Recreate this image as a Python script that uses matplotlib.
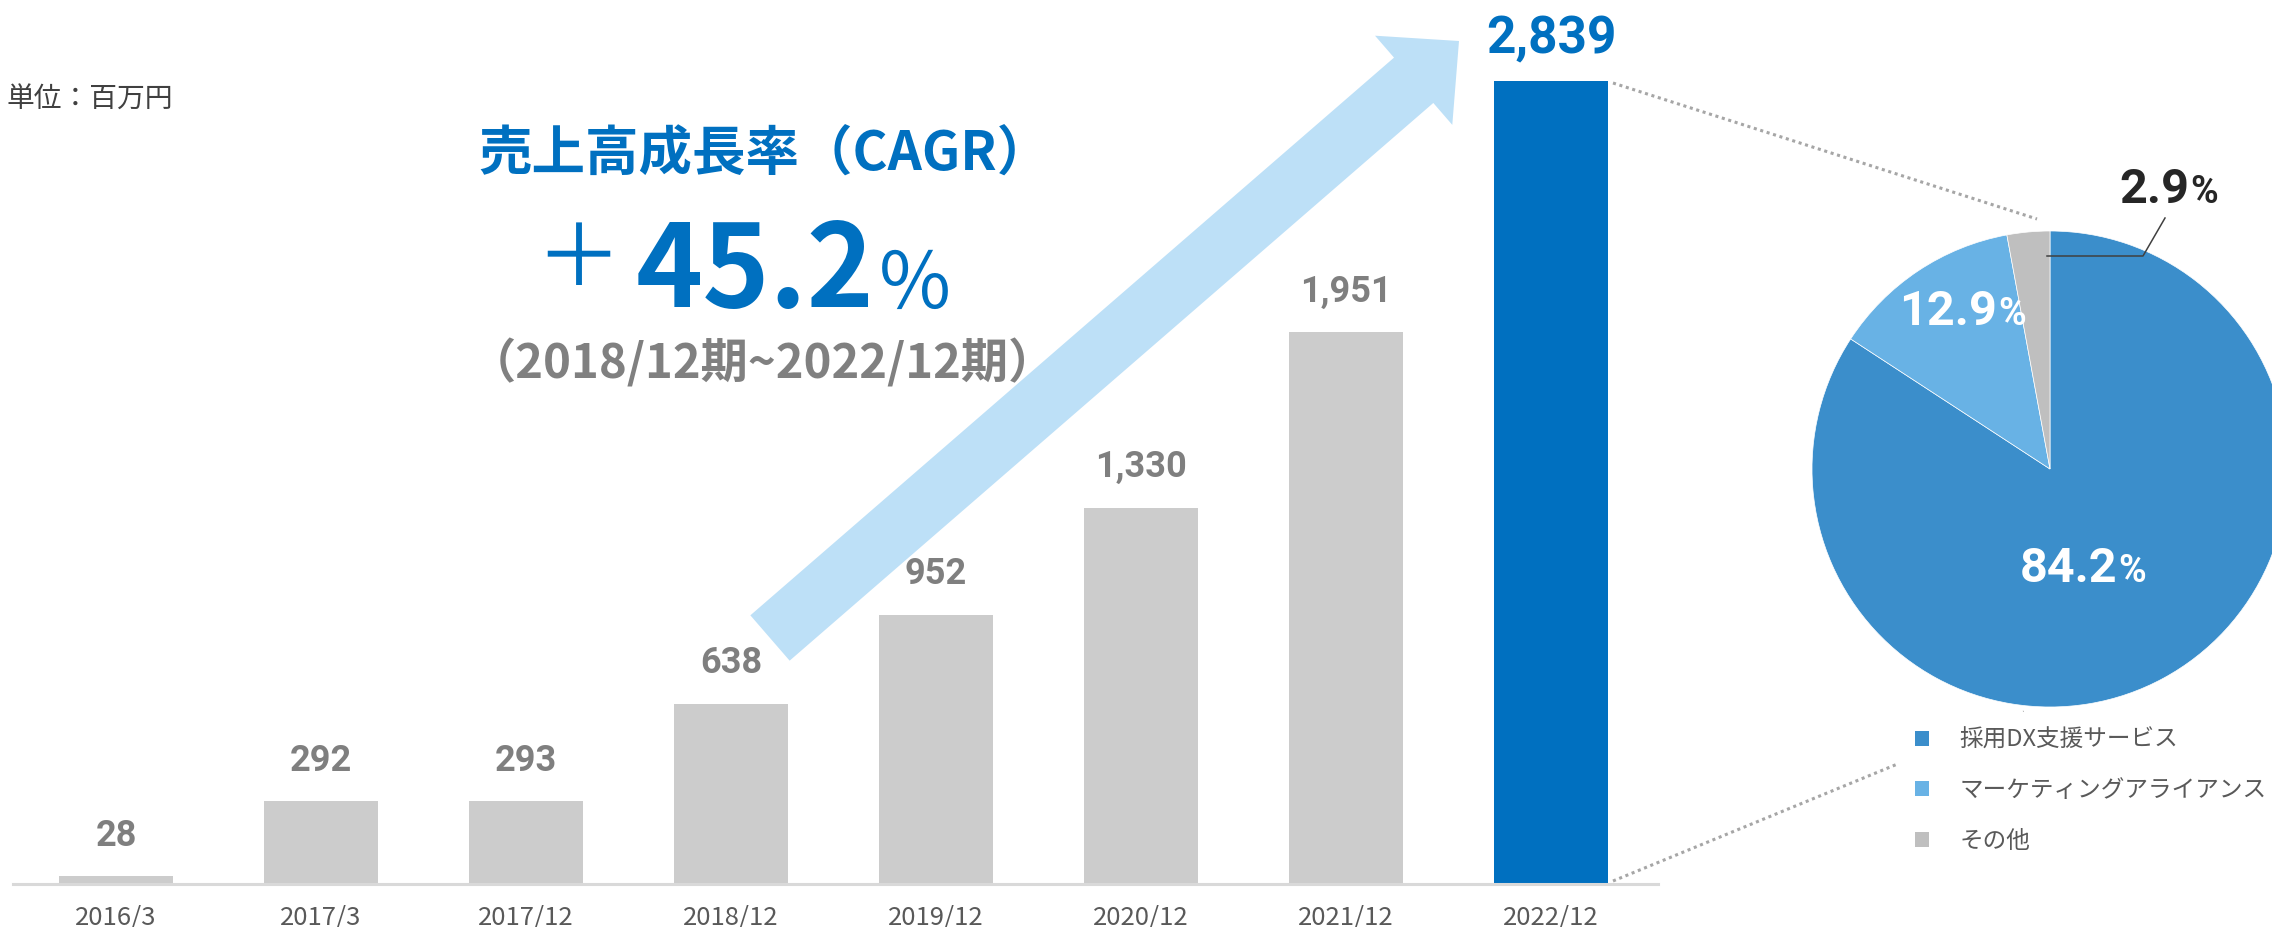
"""Sales growth bars with CAGR callout and segment pie."""

import matplotlib
import matplotlib.pyplot as plt
from matplotlib.patches import FancyArrow, Patch
from matplotlib.font_manager import FontProperties

matplotlib.use("Agg")

W, H, DPI = 2272, 927, 100

periods = ["2016/3", "2017/3", "2017/12", "2018/12", "2019/12", "2020/12", "2021/12", "2022/12"]
sales = [28, 292, 293, 638, 952, 1330, 1951, 2839]
bar_colors = ["#cccccc"] * 7 + ["#0070c0"]

segments = ["採用DX支援サービス", "マーケティングアライアンス", "その他"]
shares = [84.2, 12.9, 2.9]
share_colors = ["#3b8ecb", "#68b2e5", "#bfbfbf"]

JP = ["Noto Sans CJK JP", "DejaVu Sans"]
NUM = ["Roboto", "DejaVu Sans"]
BLUE = "#0070c0"

fig = plt.figure(figsize=(W / DPI, H / DPI), dpi=DPI)

# --- bar chart (pixel layout: baseline 884, tallest bar top 81, pitch 205) ---
base_px, top_px = 884, 81
x0, pitch = 116, 205
ax = fig.add_axes([0, (H - base_px) / H, 1, base_px / H], zorder=0)
ax.set_xlim(-x0 / pitch, (W - x0) / pitch)
ax.set_ylim(0, max(sales) * base_px / (base_px - top_px))
xs = list(range(len(sales)))
ax.bar(xs, sales, width=114 / pitch, color=bar_colors, zorder=2)
ax.axhline(0, xmin=13 / W, xmax=1658 / W, color="#d9d9d9", lw=2.2, zorder=3, clip_on=False)
for s in ax.spines.values():
    s.set_visible(False)
ax.set_yticks([])
ax.set_xticks(xs)
ax.set_xticklabels(periods, family=JP, fontsize=18.5, color="#595959")
ax.tick_params(axis="x", length=0, pad=29.5)
for t in ax.get_xticklabels():
    t.set_va("baseline")
ax.patch.set_visible(False)

for i, v in enumerate(sales):
    last = i == len(sales) - 1
    ax.annotate(f"{v:,}", (i, v), xytext=(0, 19.5 if last else 22), textcoords="offset points",
                ha="center", va="baseline", fontsize=37 if last else 26, fontweight="bold",
                color=BLUE if last else "#7f7f7f", family=NUM)

# --- pie chart ---
cx, cy, R = 2050, 469, 238
pax = fig.add_axes([(cx - R) / W, (H - cy - R) / H, 2 * R / W, 2 * R / H], zorder=2)
pax.pie(shares, colors=share_colors, startangle=90, counterclock=False, radius=1,
        wedgeprops=dict(edgecolor="white", linewidth=0.5))
pax.set_xlim(-1, 1)
pax.set_ylim(-1, 1)

# --- overlay in pixel coordinates ---
ov = fig.add_axes([0, 0, 1, 1], zorder=3)
ov.set_xlim(0, W)
ov.set_ylim(H, 0)
ov.axis("off")

ov.add_patch(FancyArrow(770, 638, 689, -597, width=60, head_width=118, head_length=60,
                        length_includes_head=True, color="#bde0f7", lw=0, zorder=1))

ov.text(7, 100, "単位：百万円", family=JP, fontsize=20, color="#404040", ha="left", va="center")
ov.text(765, 155, "売上高成長率（CAGR）", family=JP, fontsize=38.5, fontweight="bold",
        color=BLUE, ha="center", va="center")
ov.text(578, 262, "＋", family=JP, fontsize=62, color=BLUE, ha="center", va="center")
ov.text(636, 307, "45.2", family=JP, fontsize=82, fontweight="bold", color=BLUE,
        ha="left", va="baseline")
ov.text(876, 309, "％", family=JP, fontsize=56, color=BLUE, ha="left", va="baseline")
ov.text(762, 364, "（2018/12期~2022/12期）", family=JP, fontsize=34, fontweight="bold",
        color="#808080", ha="center", va="center")

# zoom guides from the last bar to the pie
dot = dict(color="#a6a6a6", lw=2.2, linestyle=(0, (1, 1.2)), zorder=0)
ov.plot([1613, 2037], [83, 219], **dot)
ov.plot([1613, 2024], [881, 712], **dot)

# pie labels
for num, right, base, color in [("84.2", 2117, 582, "white"), ("12.9", 1997, 325, "white"),
                                ("2.9", 2189, 203, "#262626")]:
    ov.text(right, base, num, family=NUM, fontsize=35, fontweight="bold", color=color,
            ha="right", va="baseline")
    ov.text(right + 1, base, "%", family=NUM, fontsize=27, fontweight="bold", color=color,
            ha="left", va="baseline")
ov.plot([2047, 2143, 2165], [256, 256, 218], color="#404040", lw=1.1)

handles = [Patch(facecolor=c, edgecolor="none", label=s) for s, c in zip(segments, share_colors)]
fig.legend(handles=handles, loc="upper left", bbox_to_anchor=(1898 / W, 1 - 712 / H),
           borderaxespad=0, frameon=True, facecolor="white", edgecolor="none", framealpha=1,
           prop=FontProperties(family=JP, size=17), labelcolor="#595959",
           handlelength=0.6, handleheight=0.6, handletextpad=1.3, labelspacing=1.17,
           borderpad=0.7)

fig.savefig("out.png", dpi=DPI)
